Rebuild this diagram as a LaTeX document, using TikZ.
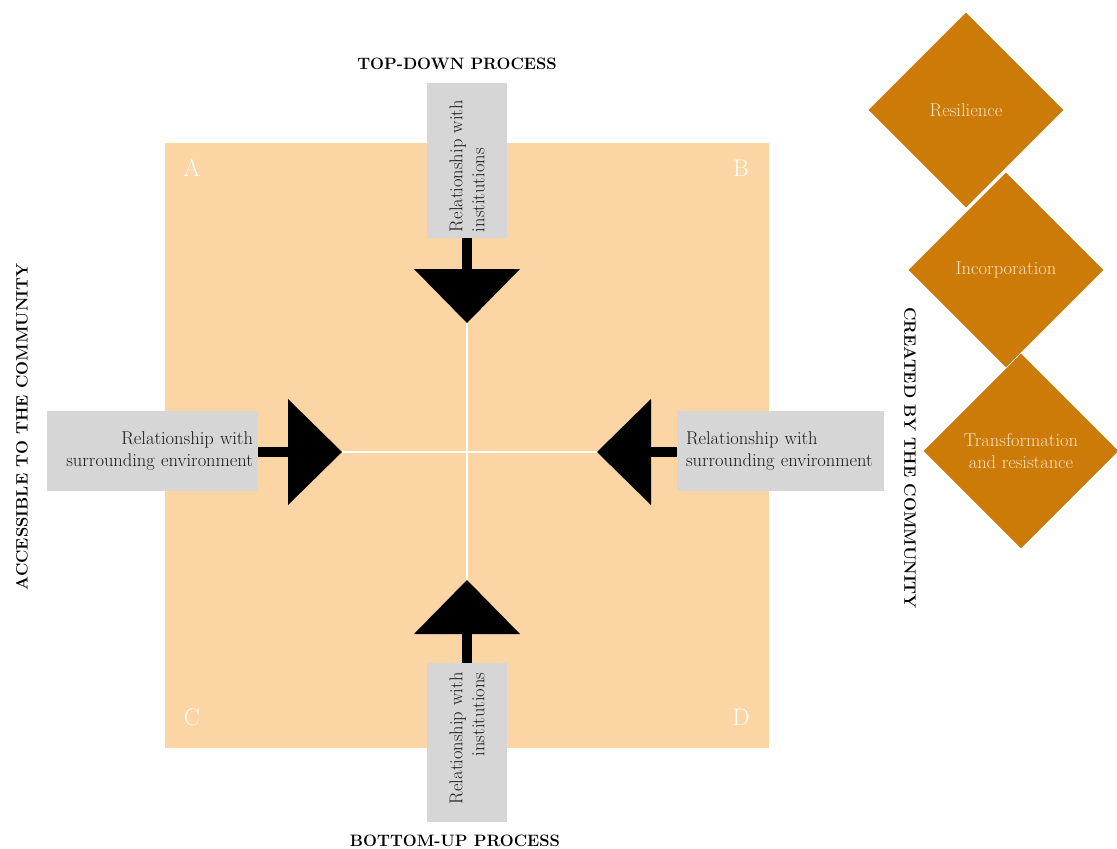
\documentclass[tikz,border=0pt]{standalone}
\usepackage{fontspec}
\usetikzlibrary{arrows.meta,shapes.geometric}
\definecolor{peach}{RGB}{252,213,165}
\definecolor{boxgray}{RGB}{214,214,214}
\definecolor{dorange}{RGB}{205,123,8}
\definecolor{cream}{RGB}{250,228,195}
\begin{document}
\begin{tikzpicture}[x=1pt,y=-1pt,
  graybox/.style={fill=boxgray, inner sep=0pt, font=\fontsize{18.5}{22}\selectfont, text=black!90},
  bigarrow/.style={line width=10pt, -{Triangle[width=106pt,length=54pt,line width=0pt]}},
  crossline/.style={white, line width=1.5pt},
  corner/.style={text=white, font=\fontsize{24}{26}\selectfont, inner sep=0pt},
  lab/.style={font=\bfseries\fontsize{16.5}{19}\selectfont, inner sep=0pt},
  diam/.style={diamond, aspect=1, fill=dorange, minimum width=195pt, minimum height=195pt,
    inner sep=0pt, text=cream, align=center, font=\fontsize{18.5}{22}\selectfont}]
\useasboundingbox (0,0) rectangle (1117,849);
% square
\node[fill=peach, minimum width=604pt, minimum height=605pt, inner sep=0pt] (sq) at (467,445.5) {};
% tips
\coordinate (tT) at (467,323);
\coordinate (bT) at (467,580);
\coordinate (lT) at (342,452);
\coordinate (rT) at (597,452);
\draw[crossline] (tT) -- (bT);
\draw[crossline] (lT) -- (rT);
% corner letters
\node[corner] (A) at (192,168) {A};
\node[corner] (B) at (741,168) {B};
\node[corner] (C) at (192,717) {C};
\node[corner] (D) at (741,717) {D};
% boxes
\node[graybox, rotate=90, minimum width=155pt, minimum height=80pt, text width=143pt, align=left] (tbox) at (467,160.5) {Relationship with\\institutions};
\node[graybox, rotate=90, minimum width=159pt, minimum height=80pt, text width=140pt, align=right] (bbox) at (467,742.5) {Relationship with\\institutions};
\node[graybox, minimum width=211pt, minimum height=80pt, text width=201pt, align=right] (lbox) at (152.5,451) {Relationship with\\surrounding environment};
\node[graybox, minimum width=207pt, minimum height=80pt, text width=189pt, align=left] (rbox) at (780.5,451) {Relationship with\\surrounding environment};
% arrows
\draw[bigarrow] (tbox) -- (tT);
\draw[bigarrow] (bbox) -- (bT);
\draw[bigarrow] (lbox.east |- lT) -- (lT);
\draw[bigarrow] (rbox.west |- rT) -- (rT);
% labels
\node[lab] (toplab) at (457,64) {TOP-DOWN PROCESS};
\node[lab] (botlab) at (455,841) {BOTTOM-UP PROCESS};
\node[lab, rotate=90] (acc) at (22,427) {ACCESSIBLE TO THE COMMUNITY};
\node[lab, rotate=-90] (cre) at (910,458) {CREATED BY THE COMMUNITY};
% diamonds
\node[diam] (d1) at (966,110) {Resilience};
\node[diam] (d2) at (1006,270) {Incorporation};
\node[diam] (d3) at (1021,451) {Transformation\\and resistance};
\end{tikzpicture}
\end{document}
